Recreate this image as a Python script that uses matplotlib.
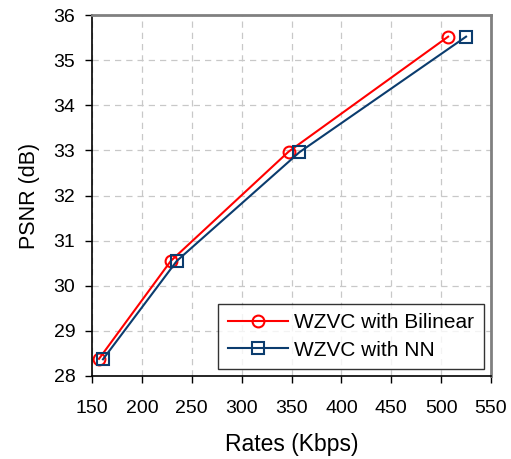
import matplotlib.pyplot as plt

plt.rcParams['font.family'] = ['Liberation Sans', 'DejaVu Sans']

# Data
rate_bilinear = [157, 229, 347, 507]
psnr_bilinear = [28.38, 30.55, 32.97, 35.52]
rate_nn = [161, 235, 358, 525]
psnr_nn = [28.37, 30.55, 32.96, 35.52]
xticks = [150, 200, 250, 300, 350, 400, 450, 500, 550]
yticks = [28, 29, 30, 31, 32, 33, 34, 35, 36]

fig = plt.figure(figsize=(5.11, 4.59), dpi=100)
ax = fig.add_axes([92 / 511, 1 - 376 / 459, (491 - 92) / 511, (376 - 15) / 459])

ax.plot(rate_bilinear, psnr_bilinear, color='#ff0000', lw=1.5, marker='o',
        ms=8.5, mfc='none', mec='#ff0000', mew=1.5, label='WZVC with Bilinear')
ax.plot(rate_nn, psnr_nn, color='#0b3c6e', lw=1.5, marker='s',
        ms=8.5, mfc='none', mec='#0b3c6e', mew=1.5, label='WZVC with NN')

ax.set_xlim(150, 550)
ax.set_ylim(28, 36)
ax.set_xticks(xticks)
ax.set_yticks(yticks)
ax.grid(True, color='#c8c8c8', ls=(0, (5, 4)), lw=0.9)
ax.set_axisbelow(True)

for s in ['top', 'right']:
    ax.spines[s].set_color('#808080')
    ax.spines[s].set_linewidth(2)
for s in ['left', 'bottom']:
    ax.spines[s].set_color('#000000')
    ax.spines[s].set_linewidth(1.2)

ax.tick_params(direction='out', length=5, width=1, labelsize=14, pad=7)
ax.tick_params(axis='x', pad=12)
ax.set_xlabel('Rates (Kbps)', fontsize=16.5, labelpad=12)
ax.set_ylabel('PSNR (dB)', fontsize=15.5, labelpad=10)

leg = ax.legend(loc='lower right', bbox_to_anchor=(0.982, 0.019), fontsize=15,
                frameon=True, fancybox=False, edgecolor='black',
                handlelength=2.9, handletextpad=0.3, borderpad=0.45,
                labelspacing=0.4, borderaxespad=0)
leg.get_frame().set_linewidth(1)

fig.savefig('out.png', dpi=100)
